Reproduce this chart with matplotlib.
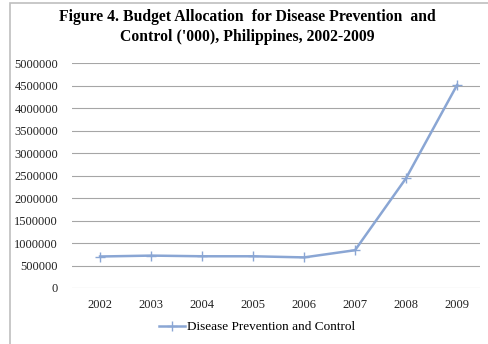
import matplotlib.pyplot as plt
from matplotlib.patches import Rectangle

# datos
anios = ['2002', '2003', '2004', '2005', '2006', '2007', '2008', '2009']
presupuesto = [700000, 720000, 705000, 705000, 680000, 840000, 2440000, 4510000]
ticks_y = [0, 500000, 1000000, 1500000, 2000000, 2500000, 3000000, 3500000, 4000000, 4500000, 5000000]

plt.rcParams['font.family'] = ['Liberation Serif', 'DejaVu Serif']

fig = plt.figure(figsize=(4.89, 3.44), dpi=100)
ax = fig.add_axes([72 / 489, 1 - 288 / 344, (480 - 72) / 489, (288 - 63) / 344])

# marco gris del grafico
fig.patches.append(Rectangle((10 / 489, -0.1), 1.2, 1 - 3 / 344 + 0.1, transform=fig.transFigure,
                             fill=False, edgecolor='#bfbfbf', linewidth=1.2))

x = range(len(anios))
linea, = ax.plot(x, presupuesto, color='#8aa6d4', linewidth=1.8, marker='+', markersize=7,
                 markeredgewidth=1, label='Disease Prevention and Control')

ax.set_xlim(-0.55, 7.45)
ax.set_ylim(0, 5000000)
ax.set_yticks(ticks_y)
ax.set_yticklabels([str(t) for t in ticks_y])
ax.set_xticks(list(x))
ax.set_xticklabels(anios)
ax.tick_params(axis='both', length=0, labelsize=9, colors='#222222')
ax.tick_params(axis='y', pad=10)
ax.tick_params(axis='x', pad=8)
ax.grid(axis='y', color='#a6a6a6', linewidth=0.8)
ax.set_axisbelow(True)
for s in ax.spines.values():
    s.set_visible(False)

fig.text(0.505, 1 - 27 / 344, "Figure 4. Budget Allocation  for Disease Prevention  and\nControl ('000), Philippines, 2002-2009",
         ha='center', va='center', fontsize=11.3, fontweight='bold', linespacing=1.3)

fig.legend(handles=[linea], loc='center', bbox_to_anchor=(0.525, 1 - 327 / 344), frameon=False,
           fontsize=9.5, handlelength=2, handletextpad=0.1)

fig.savefig('out.png', dpi=100)
